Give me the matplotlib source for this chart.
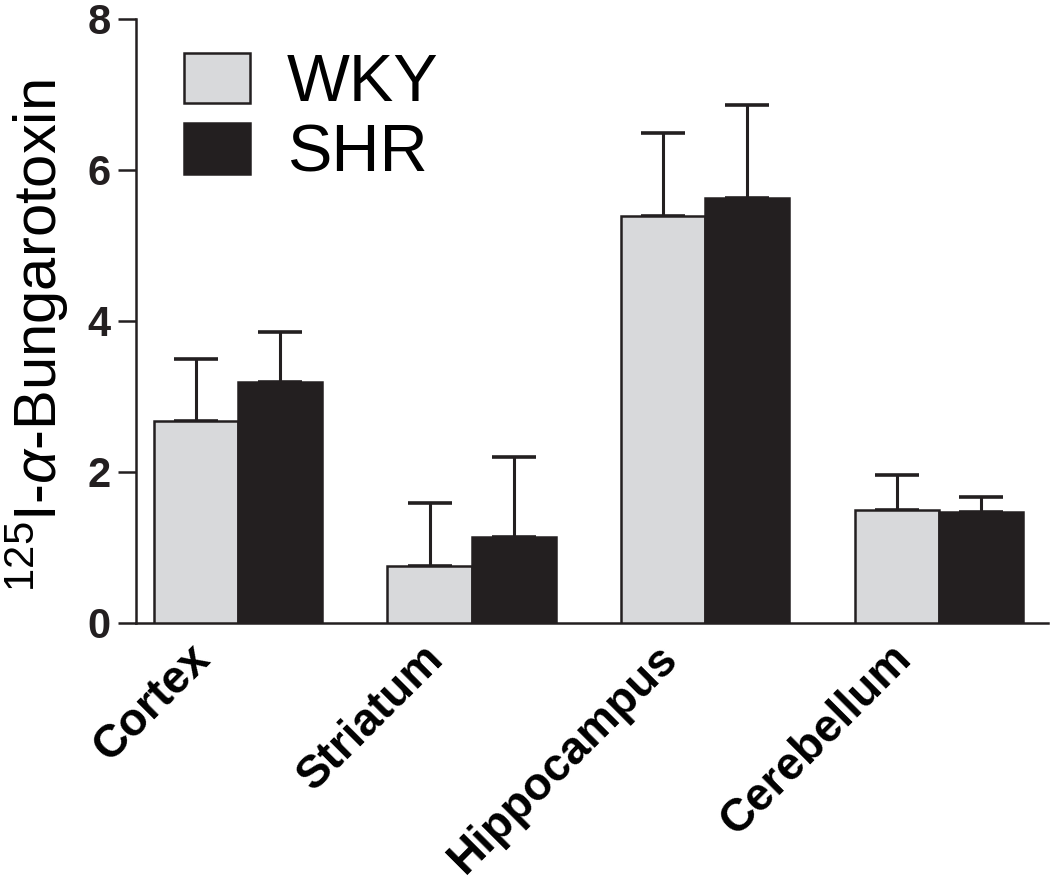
import numpy as np
import matplotlib.pyplot as plt
from matplotlib.transforms import ScaledTranslation

regions = ['Cortex', 'Striatum', 'Hippocampus', 'Cerebellum']
wky_mean = [2.67, 0.75, 5.38, 1.49]
wky_err = [0.82, 0.84, 1.11, 0.46]
shr_mean = [3.19, 1.13, 5.63, 1.46]
shr_err = [0.66, 1.07, 1.22, 0.21]
yticks = [0, 2, 4, 6, 8]

plt.rcParams['font.family'] = ['Liberation Sans', 'DejaVu Sans']
plt.rcParams['mathtext.fontset'] = 'custom'
plt.rcParams['mathtext.rm'] = 'Liberation Sans'
plt.rcParams['mathtext.it'] = 'Liberation Sans:italic'

fig = plt.figure(figsize=(10.5, 8.82), dpi=100)
ax = fig.add_axes([0.1295, 0.294, 0.8685, 0.685])

x = np.arange(len(regions))
w = 0.36
lw = 1.8
ax.bar(x - w / 2, wky_mean, w, color='#d8d9db', edgecolor='#231f20', linewidth=lw,
       label='WKY', zorder=3)
ax.bar(x + w / 2, shr_mean, w, color='#231f20', edgecolor='#231f20', linewidth=lw,
       label='SHR', zorder=3)
ax.errorbar(x - w / 2, wky_mean, yerr=[np.zeros(4), wky_err], fmt='none',
            ecolor='#231f20', elinewidth=2.2, capsize=16, capthick=2.6, zorder=2)
ax.errorbar(x + w / 2, shr_mean, yerr=[np.zeros(4), shr_err], fmt='none',
            ecolor='#231f20', elinewidth=2.2, capsize=16, capthick=2.6, zorder=2)

ax.set_xlim(-0.436, 3.466)
ax.set_ylim(0, 8)
ax.set_yticks(yticks)
ax.set_yticklabels([str(t) for t in yticks], fontsize=30, fontweight='bold')
ax.tick_params(axis='y', length=13, width=lw, pad=5, colors='#231f20')
ax.set_xticks(x)
ax.set_xticklabels(regions, fontsize=33, fontweight='bold', rotation=45,
                   ha='right', va='top', rotation_mode='anchor')
ax.tick_params(axis='x', length=0, pad=10)
for lab in ax.get_xticklabels():
    lab.set_transform(lab.get_transform() + ScaledTranslation(-0.50, 0, fig.dpi_scale_trans))

for s in ['top', 'right']:
    ax.spines[s].set_visible(False)
for s in ['left', 'bottom']:
    ax.spines[s].set_linewidth(lw)
    ax.spines[s].set_color('#231f20')

ax.set_ylabel(r'$^{125}$I-$\alpha$-Bungarotoxin', fontsize=43)
ax.yaxis.set_label_coords(-0.071, 0.475)

ax.legend(loc='upper left', bbox_to_anchor=(0.175, 0.94), bbox_transform=fig.transFigure,
          fontsize=48, frameon=False, handlelength=1.0, handleheight=0.79,
          handletextpad=0.55, labelspacing=0.12, borderpad=0, borderaxespad=0)

fig.savefig('out.png', dpi=100)
